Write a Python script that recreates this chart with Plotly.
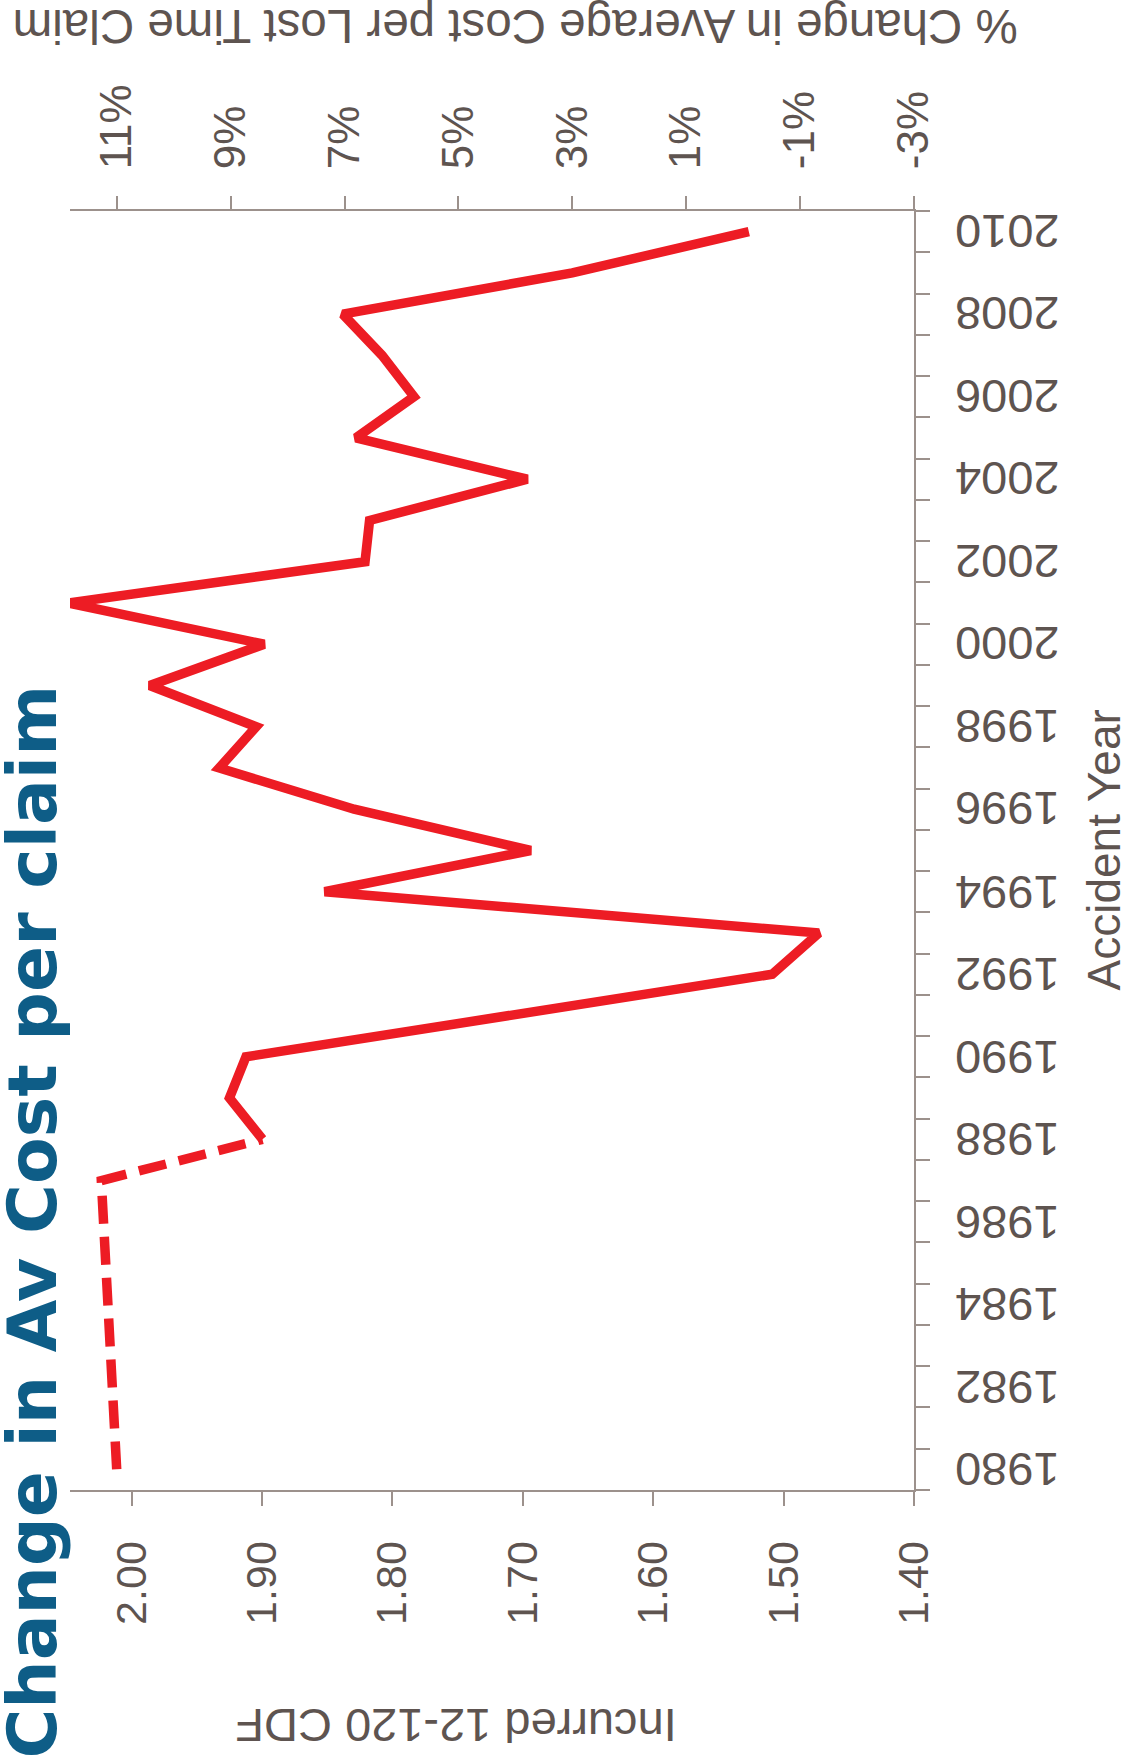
import plotly.graph_objects as go

# Accident years and % change in average cost per lost-time claim
years_solid = [1988, 1989, 1990, 1991, 1992, 1993, 1994, 1995, 1996, 1997, 1998, 1999,
               2000, 2001, 2002, 2003, 2004, 2005, 2006, 2007, 2008, 2009, 2010]
pct_solid = [8.44, 9.02, 8.73, 4.11, -0.51, -1.33, 7.35, 3.73, 6.83, 9.20, 8.55, 10.42,
             8.41, 11.85, 6.64, 6.56, 3.79, 6.80, 5.78, 6.34, 7.03, 3.00, -0.10]

# Early years shown as a dashed estimate, joining the solid series at 1988
years_dashed = [1980, 1987, 1988]
pct_dashed = [11.0, 11.27, 8.44]

# Axis ticks
year_ticks = list(range(1980, 2011, 2))
year_edges = [y + 0.5 for y in range(1979, 2011)]
pct_ticks = [11, 9, 7, 5, 3, 1, -1, -3]
pct_labels = ["11%", "9%", "7%", "5%", "3%", "1%", "-1%", "-3%"]
cdf_ticks = [2.00, 1.90, 1.80, 1.70, 1.60, 1.50, 1.40]
cdf_labels = ["2.00", "1.90", "1.80", "1.70", "1.60", "1.50", "1.40"]

RED = "#ED1C24"
AXIS = "#9C918C"
TEXT = "#5E5450"
BLUE = "#0E5D87"
FONT = "Liberation Sans, Arial, sans-serif"

W, H = 1129, 1758
L, R, T, B = 69.5, 913.7, 210.5, 1490.0


def px(x):
    return (x - L) / (R - L)


def py(y):
    return (B - y) / (B - T)


fig = go.Figure()

fig.add_trace(go.Scatter(
    x=pct_dashed, y=years_dashed, xaxis="x2", yaxis="y", mode="lines",
    line=dict(color=RED, width=9.5, dash="28px,13px"), hoverinfo="skip",
    showlegend=False))
fig.add_trace(go.Scatter(
    x=pct_solid, y=years_solid, xaxis="x2", yaxis="y", mode="lines",
    line=dict(color=RED, width=9.5), showlegend=False))
# keeps the CDF axis attached to the plot
fig.add_trace(go.Scatter(
    x=[cdf_ticks[0]], y=[year_ticks[0]], xaxis="x", yaxis="y", mode="markers",
    marker=dict(opacity=0), hoverinfo="skip", showlegend=False))

# year labels, upside down, centred on each tick value of the year axis
year_labels = [
    dict(text=str(y), textangle=180, x=px(1007), y=y, xref="paper", yref="y",
         xanchor="center", yanchor="middle", showarrow=False,
         font=dict(family=FONT, size=47, color=TEXT))
    for y in year_ticks
]

fig.update_layout(
    width=W, height=H,
    margin=dict(l=L, r=W - R, t=T, b=H - B, pad=0),
    paper_bgcolor="white", plot_bgcolor="white",
    font=dict(family=FONT, color=TEXT),
    xaxis=dict(
        range=[2.0473, 1.40], tickmode="array", tickvals=cdf_ticks, ticktext=cdf_labels,
        tickangle=-90, ticks="outside", ticklen=14, tickwidth=1.5, tickcolor=AXIS,
        showline=True, linecolor=AXIS, linewidth=2, showgrid=False, zeroline=False,
        tickfont=dict(size=43, color=TEXT), side="bottom", anchor="y",
        ticklabelstandoff=18,
    ),
    xaxis2=dict(
        range=[11.82, -3], tickmode="array", tickvals=pct_ticks, ticktext=pct_labels,
        tickangle=-90, ticks="outside", ticklen=13, tickwidth=1.5, tickcolor=AXIS,
        showline=True, linecolor=AXIS, linewidth=2, showgrid=False, zeroline=False,
        tickfont=dict(size=44, color=TEXT), side="top", overlaying="x", anchor="y",
        ticklabelstandoff=18,
    ),
    yaxis=dict(
        range=[1979.5, 2010.5], tickmode="array", tickvals=year_ticks,
        ticks="", showticklabels=False,
        showline=True, linecolor=AXIS, linewidth=2, showgrid=False, zeroline=False,
        side="right",
        minor=dict(tickmode="array", tickvals=year_edges, ticks="outside", ticklen=14,
                   tickwidth=1.5, tickcolor=AXIS, showgrid=False),
    ),
    annotations=year_labels + [
        dict(text="<b>Change in Av Cost per claim</b>", textangle=-90,
             x=px(32), y=py(1222), xref="paper", yref="paper",
             xanchor="center", yanchor="middle", showarrow=False,
             font=dict(family="DejaVu Sans, sans-serif", size=68, color=BLUE)),
        dict(text="Accident Year", textangle=-90,
             x=px(1104), y=py(850), xref="paper", yref="paper",
             xanchor="center", yanchor="middle", showarrow=False,
             font=dict(family=FONT, size=46, color=TEXT)),
        dict(text="Incurred 12-120 CDF", textangle=180,
             x=px(456), y=py(1725), xref="paper", yref="paper",
             xanchor="center", yanchor="middle", showarrow=False,
             font=dict(family=FONT, size=47, color=TEXT)),
        dict(text="% Change in Average Cost per Lost Time Claim", textangle=180,
             x=px(515), y=py(26), xref="paper", yref="paper",
             xanchor="center", yanchor="middle", showarrow=False,
             font=dict(family=FONT, size=47.5, color=TEXT)),
    ],
)

fig.write_html("out.html")
